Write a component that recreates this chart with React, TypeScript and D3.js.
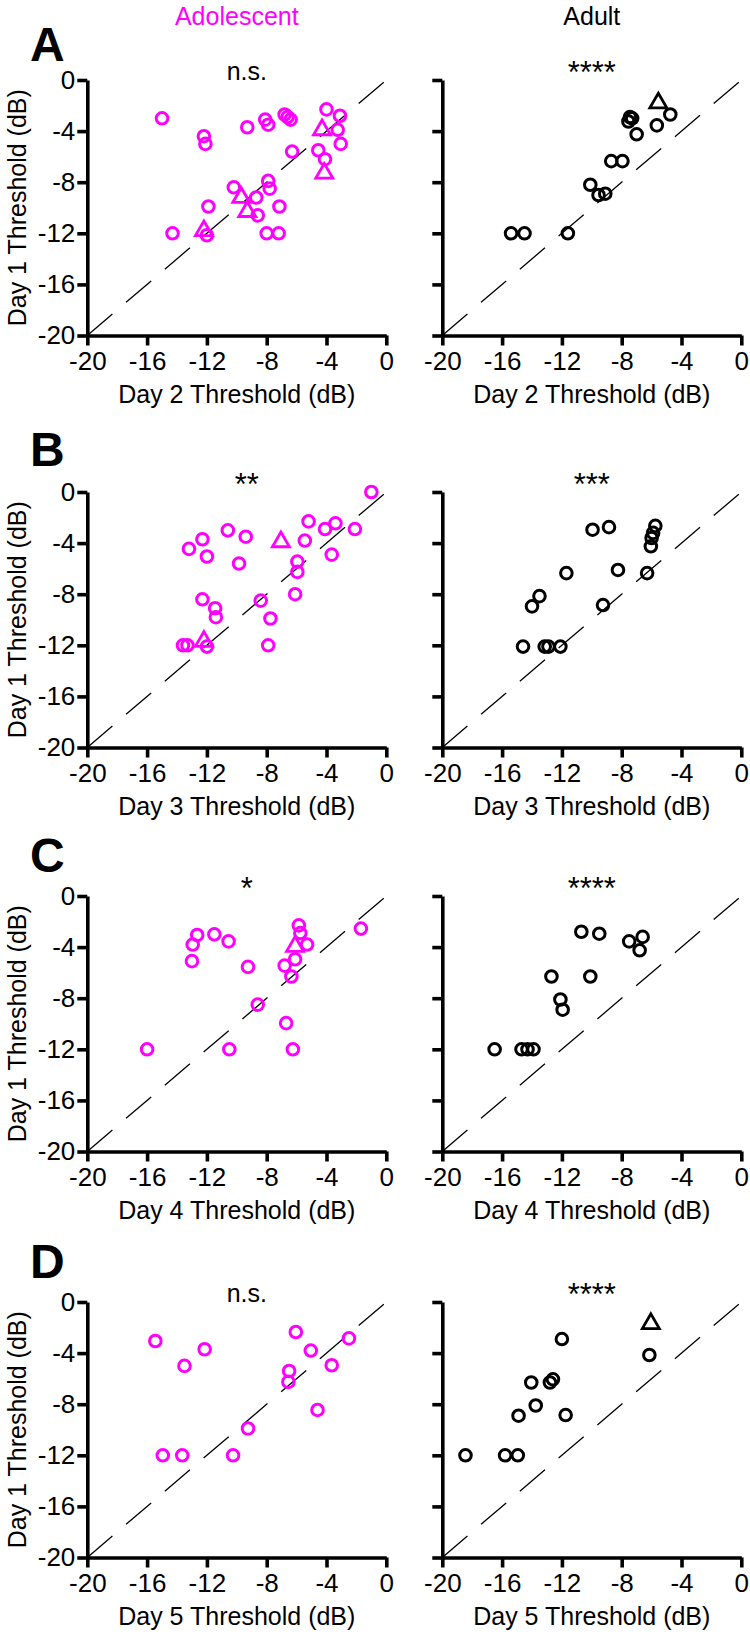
import React, { useEffect, useRef } from 'react'
import * as d3 from 'd3'

type Pt = [number, number]

// [later-day threshold, day 1 threshold] in dB
const adolDay2Circles: Pt[] = [
  [-15, -3], [-12.2, -4.4], [-12.1, -5.0], [-14.3, -12], [-12.0, -12.15], [-11.9, -9.9],
  [-10.2, -8.4], [-8.7, -9.2], [-8.6, -10.6], [-9.3, -3.7], [-8.1, -3.1], [-7.9, -3.5],
  [-7.9, -7.9], [-7.8, -8.5], [-8, -12], [-7.2, -12], [-7.15, -9.9], [-6.8, -2.7],
  [-6.6, -2.9], [-6.4, -3.1], [-6.3, -5.6], [-4.0, -2.3], [-3.1, -2.8], [-3.25, -3.9],
  [-3.05, -5.0], [-4.55, -5.5], [-4.1, -6.2],
]
const adolDay2Triangles: Pt[] = [[-12.2, -11.8], [-9.7, -9.2], [-9.3, -10.3], [-4.3, -3.9], [-4.15, -7.3]]
const adultDay2Circles: Pt[] = [
  [-15.4, -12], [-14.5, -12], [-11.6, -12], [-10.1, -8.2], [-9.55, -9.0], [-9.1, -8.9],
  [-8.7, -6.35], [-7.95, -6.35], [-7.55, -3.25], [-7.45, -2.9], [-7.3, -3.0], [-7.0, -4.25],
  [-5.65, -3.55], [-4.75, -2.7],
]
const adultDay2Triangles: Pt[] = [[-5.55, -1.8]]

const adolDay3Circles: Pt[] = [
  [-13.2, -4.45], [-12.3, -3.7], [-12.0, -5.05], [-10.6, -3.0], [-9.4, -3.5], [-9.85, -5.6],
  [-12.3, -8.4], [-11.45, -9.1], [-11.4, -9.8], [-13.6, -12], [-13.3, -12], [-12.0, -12.1],
  [-8.4, -8.5], [-7.75, -9.9], [-7.9, -12], [-6.1, -8.0], [-5.95, -5.45], [-5.95, -6.25],
  [-5.45, -3.8], [-5.2, -2.3], [-4.1, -2.9], [-3.4, -2.45], [-3.65, -4.9], [-2.1, -2.9],
  [-1.0, 0],
]
const adolDay3Triangles: Pt[] = [[-12.2, -11.7], [-7.05, -3.9]]
const adultDay3Circles: Pt[] = [
  [-14.6, -12.1], [-13.15, -12.1], [-12.9, -12.1], [-12.1, -12.1], [-14.0, -8.95], [-13.5, -8.15],
  [-11.7, -6.35], [-9.95, -2.95], [-8.85, -2.75], [-8.25, -6.1], [-9.25, -8.85], [-6.3, -6.35],
  [-6.05, -4.25], [-6.0, -3.6], [-5.9, -3.2], [-5.75, -2.65],
]
const adultDay3Triangles: Pt[] = []

const adolDay4Circles: Pt[] = [
  [-16, -12], [-13.0, -5.1], [-12.95, -3.8], [-12.65, -3.05], [-11.5, -3.0], [-10.55, -3.55],
  [-10.5, -12], [-9.25, -5.55], [-8.6, -8.5], [-6.7, -9.95], [-6.25, -12], [-6.8, -5.45],
  [-6.35, -6.3], [-6.1, -4.95], [-5.85, -2.3], [-5.75, -2.9], [-5.3, -3.8], [-1.7, -2.55],
]
const adolDay4Triangles: Pt[] = [[-6.1, -3.95]]
const adultDay4Circles: Pt[] = [
  [-16.5, -12], [-14.7, -12], [-14.3, -12], [-13.9, -12], [-12.7, -6.3], [-12.1, -8.1],
  [-11.95, -8.9], [-10.7, -2.8], [-9.5, -2.95], [-10.1, -6.3], [-7.5, -3.55], [-6.6, -3.2],
  [-6.8, -4.25],
]
const adultDay4Triangles: Pt[] = []

const adolDay5Circles: Pt[] = [
  [-15.45, -3.05], [-13.5, -5.0], [-12.15, -3.7], [-14.95, -12], [-13.65, -12], [-10.25, -12],
  [-9.25, -9.9], [-6.5, -5.4], [-6.55, -6.25], [-6.05, -2.35], [-5.05, -3.8], [-3.65, -4.95],
  [-4.6, -8.45], [-2.5, -2.85],
]
const adolDay5Triangles: Pt[] = []
const adultDay5Circles: Pt[] = [
  [-18.45, -12], [-15.8, -12], [-14.95, -12], [-14.9, -8.9], [-13.75, -8.1], [-14.05, -6.3],
  [-12.8, -6.3], [-12.6, -6.05], [-12.0, -2.9], [-11.75, -8.85], [-6.15, -4.15],
]
const adultDay5Triangles: Pt[] = [[-6.05, -1.7]]

const ticks = [-20, -16, -12, -8, -4, 0]
const groups = ['Adolescent', 'Adult']
const days = ['Day 2', 'Day 3', 'Day 4', 'Day 5']
const panelLetters = ['A', 'B', 'C', 'D']
const sigAdol = ['n.s.', '**', '*', 'n.s.']
const sigAdult = ['****', '***', '****', '****']

const rows = [
  { adol: [adolDay2Circles, adolDay2Triangles], adult: [adultDay2Circles, adultDay2Triangles] },
  { adol: [adolDay3Circles, adolDay3Triangles], adult: [adultDay3Circles, adultDay3Triangles] },
  { adol: [adolDay4Circles, adolDay4Triangles], adult: [adultDay4Circles, adultDay4Triangles] },
  { adol: [adolDay5Circles, adolDay5Triangles], adult: [adultDay5Circles, adultDay5Triangles] },
]

const FONT = '"Liberation Sans", Arial, Helvetica, sans-serif'
const MAGENTA = '#ff00ff'

const App = () => {
  const svgRef = useRef<SVGSVGElement>(null)

  useEffect(() => {
    const width = 750, height = 1635
    const svg = d3.select(svgRef.current)
    svg.selectAll('*').remove()
    svg.attr('width', width).attr('height', height).attr('viewBox', `0 0 ${width} ${height}`)

    const panelX = [87.3, 442.3]
    const panelW = 299
    const panelH = 255.5
    const rowY = [80, 492, 896, 1302]
    const letterY = [61, 466, 872, 1278]
    const axisW = 3.6

    // column headers
    groups.forEach((name, c) => {
      svg.append('text')
        .attr('x', panelX[c] + panelW / 2).attr('y', 25)
        .attr('text-anchor', 'middle')
        .attr('font-family', FONT).attr('font-size', 25)
        .attr('fill', c === 0 ? MAGENTA : '#000')
        .text(name)
    })

    rows.forEach((row, r) => {
      svg.append('text')
        .attr('x', 30).attr('y', letterY[r])
        .attr('font-family', FONT).attr('font-size', 48).attr('font-weight', 'bold')
        .text(panelLetters[r])

      ;[row.adol, row.adult].forEach(([circles, triangles], c) => {
        const color = c === 0 ? MAGENTA : '#000'
        const x = d3.scaleLinear().domain([-20, 0]).range([panelX[c], panelX[c] + panelW])
        const y = d3.scaleLinear().domain([-20, 0]).range([rowY[r] + panelH, rowY[r]])
        const g = svg.append('g')

        // unity line
        g.append('line')
          .attr('x1', x(-20)).attr('y1', y(-20))
          .attr('x2', x(0)).attr('y2', y(0))
          .attr('stroke', '#000').attr('stroke-width', 1.3)
          .attr('stroke-dasharray', '33 18')

        g.selectAll('circle.pt')
          .data(circles)
          .enter()
          .append('circle')
          .attr('class', 'pt')
          .attr('cx', d => x(d[0]))
          .attr('cy', d => y(d[1]))
          .attr('r', 5.8)
          .attr('fill', 'none')
          .attr('stroke', color)
          .attr('stroke-width', 3)

        const tri = d3.symbol().type(d3.symbolTriangle).size(125)
        g.selectAll('path.tri')
          .data(triangles)
          .enter()
          .append('path')
          .attr('class', 'tri')
          .attr('d', tri)
          .attr('transform', d => `translate(${x(d[0])},${y(d[1])})`)
          .attr('fill', 'none')
          .attr('stroke', color)
          .attr('stroke-width', 2.8)

        const xa = g.append('g')
          .attr('transform', `translate(0,${y(-20)})`)
          .call(d3.axisBottom(x).tickValues(ticks).tickSize(10).tickSizeOuter(0).tickPadding(6)
            .tickFormat(d => String(d)))
        const ya = g.append('g')
          .attr('transform', `translate(${x(-20)},0)`)
          .call(d3.axisLeft(y).tickValues(ticks).tickSize(10).tickSizeOuter(0).tickPadding(2)
            .tickFormat(d => (c === 0 ? String(d) : '')))
        ;[xa, ya].forEach(a => {
          a.attr('font-family', FONT).attr('font-size', 26)
          a.selectAll('.domain').attr('stroke-width', axisW)
          a.selectAll('.tick line').attr('stroke-width', axisW)
          a.selectAll('.tick text').attr('fill', '#000')
        })

        // x title
        g.append('text')
          .attr('x', panelX[c] + panelW / 2).attr('y', y(-20) + 67)
          .attr('text-anchor', 'middle')
          .attr('font-family', FONT).attr('font-size', 25)
          .text(`${days[r]} Threshold (dB)`)

        if (c === 0) {
          g.append('text')
            .attr('transform', `translate(26,${rowY[r] + panelH / 2}) rotate(-90)`)
            .attr('text-anchor', 'middle')
            .attr('font-family', FONT).attr('font-size', 25)
            .text('Day 1 Threshold (dB)')
        }

        const sig = c === 0 ? sigAdol[r] : sigAdult[r]
        g.append('text')
          .attr('x', panelX[c] + panelW / 2 + (c === 0 ? 10 : 0))
          .attr('y', rowY[r] + (sig.includes('*') ? 3 : 0))
          .attr('text-anchor', 'middle')
          .attr('font-family', FONT)
          .attr('font-size', sig.includes('*') ? 31 : 25)
          .text(sig)
      })
    })
  }, [])

  return (
    <svg ref={svgRef} style={{ position: 'absolute', left: 0, top: 0, display: 'block', background: '#fff' }} />
  )
}

export default App
